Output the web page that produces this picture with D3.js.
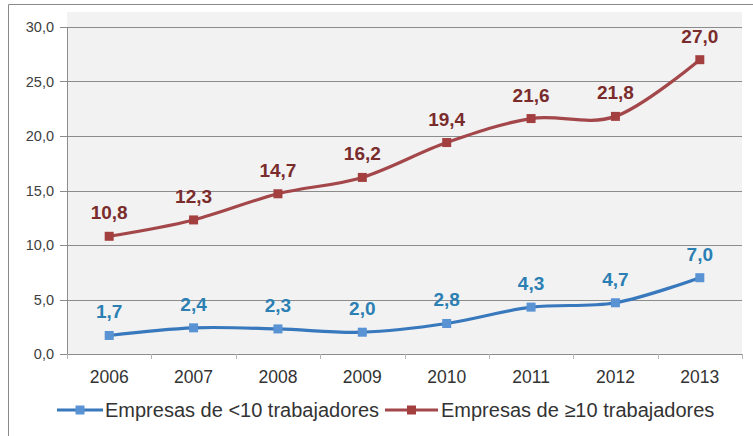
<!DOCTYPE html>
<html>
<head>
<meta charset="utf-8">
<script src="https://cdn.jsdelivr.net/npm/d3@7"></script>
<style>
  html, body { margin: 0; padding: 0; background: #ffffff; }
  svg { display: block; font-family: "Liberation Sans", Arial, sans-serif; }
</style>
</head>
<body>
<svg id="chart" width="753" height="436"></svg>
<script>
// Years on the horizontal axis
const years = ["2006", "2007", "2008", "2009", "2010", "2011", "2012", "2013"];
// Percentage values per company size
const smallCompanies = [1.7, 2.4, 2.3, 2.0, 2.8, 4.3, 4.7, 7.0];
const largeCompanies = [10.8, 12.3, 14.7, 16.2, 19.4, 21.6, 21.8, 27.0];
// Series names shown in the legend
const seriesNames = ["Empresas de <10 trabajadores", "Empresas de \u226510 trabajadores"];
// Y-axis tick values
const yTicks = [0, 5, 10, 15, 20, 25, 30];

const series = [
  { name: seriesNames[0], values: smallCompanies, line: "#3878bd", marker: "#5a93d3", label: "#2b7fb3" },
  { name: seriesNames[1], values: largeCompanies, line: "#a3474a", marker: "#a3403f", label: "#7a2c2c" }
];

const svg = d3.select("#chart");
const plot = { left: 67, right: 742, top: 12, bottom: 354 };

const fmt = v => d3.format(".1f")(v).replace(".", ",");

const x = d3.scaleBand().domain(years).range([plot.left, plot.right]).padding(0);
const y = d3.scaleLinear().domain([0, 30]).range([plot.bottom, plot.bottom - 30 * 10.9]);
const cx = d => x(d) + x.bandwidth() / 2;

// Outer frame (left and top edges)
svg.append("path")
  .attr("d", "M8.5,436 L8.5,4.5 L753,4.5")
  .attr("fill", "none").attr("stroke", "#8a8a8a").attr("stroke-width", 1);

// Plot background
svg.append("rect")
  .attr("x", plot.left).attr("y", plot.top)
  .attr("width", plot.right - plot.left).attr("height", plot.bottom - plot.top)
  .attr("fill", "#f2f2f2");

// Horizontal gridlines
svg.append("g").selectAll("line").data(yTicks).join("line")
  .attr("x1", plot.left - 7).attr("x2", plot.right)
  .attr("y1", d => Math.round(y(d)) + 0.5).attr("y2", d => Math.round(y(d)) + 0.5)
  .attr("stroke", "#8c8c8c").attr("stroke-width", 1);

// Y axis line
svg.append("line")
  .attr("x1", plot.left + 0.5).attr("x2", plot.left + 0.5)
  .attr("y1", Math.round(y(30)) + 0.5).attr("y2", plot.bottom + 0.5)
  .attr("stroke", "#8c8c8c");

// Y tick labels
svg.append("g").selectAll("text").data(yTicks).join("text")
  .attr("x", 54).attr("y", d => y(d) + 5)
  .attr("text-anchor", "end")
  .attr("font-size", 14.5).attr("fill", "#404040")
  .text(d => fmt(d));

// X tick marks at category boundaries
const bounds = years.map(d => x(d)).concat([plot.right]);
svg.append("g").selectAll("line").data(bounds).join("line")
  .attr("x1", d => Math.round(d) + 0.5).attr("x2", d => Math.round(d) + 0.5)
  .attr("y1", plot.bottom).attr("y2", plot.bottom + 5)
  .attr("stroke", "#b5b5b5");

// X tick labels
svg.append("g").selectAll("text").data(years).join("text")
  .attr("x", d => cx(d)).attr("y", 383)
  .attr("text-anchor", "middle")
  .attr("font-size", 17.5).attr("fill", "#333333")
  .text(d => d);

// Lines, markers and value labels
const line = d3.line()
  .x((v, i) => cx(years[i]))
  .y(v => y(v))
  .curve(d3.curveCardinal.tension(0));

series.forEach(s => {
  const g = svg.append("g");
  g.append("path")
    .attr("d", line(s.values))
    .attr("fill", "none").attr("stroke", s.line).attr("stroke-width", 3.2);
  g.selectAll("rect").data(s.values).join("rect")
    .attr("x", (v, i) => cx(years[i]) - 4.5).attr("y", v => y(v) - 4.5)
    .attr("width", 9).attr("height", 9)
    .attr("fill", s.marker);
  g.selectAll("text").data(s.values).join("text")
    .attr("x", (v, i) => cx(years[i])).attr("y", v => y(v) - 17)
    .attr("text-anchor", "middle")
    .attr("font-size", 19).attr("font-weight", "bold").attr("fill", s.label)
    .text(v => fmt(v));
});

// Legend
const legendItems = [
  { s: series[0], x0: 57, x1: 103, tx: 105 },
  { s: series[1], x0: 385, x1: 438, tx: 441 }
];
const legendY = 410;
legendItems.forEach(it => {
  const g = svg.append("g");
  g.append("line")
    .attr("x1", it.x0).attr("x2", it.x1).attr("y1", legendY).attr("y2", legendY)
    .attr("stroke", it.s.line).attr("stroke-width", 3.2);
  g.append("rect")
    .attr("x", (it.x0 + it.x1) / 2 - 4.5).attr("y", legendY - 4.5)
    .attr("width", 9).attr("height", 9).attr("fill", it.s.marker);
  g.append("text")
    .attr("x", it.tx).attr("y", legendY + 6.5)
    .attr("font-size", 20).attr("fill", "#333333")
    .text(it.s.name);
});
</script>
</body>
</html>
